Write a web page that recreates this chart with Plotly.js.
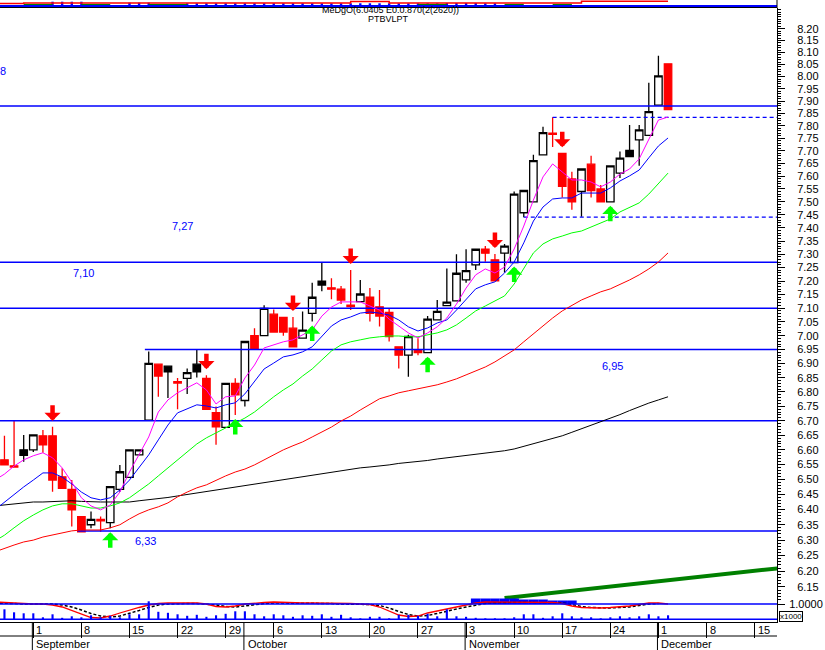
<!DOCTYPE html>
<html><head><meta charset="utf-8">
<script src="https://cdn.plot.ly/plotly-3.0.1.min.js"></script>
<style>html,body{margin:0;padding:0;background:#fff}#chart{width:825px;height:650px}</style>
</head><body><div id="chart"></div>
<script>
// ---------- data ----------
const dates = ['2014-08-26','2014-08-27','2014-08-28','2014-08-29',
'2014-09-01','2014-09-02','2014-09-03','2014-09-04','2014-09-05','2014-09-08','2014-09-09','2014-09-10','2014-09-11','2014-09-12',
'2014-09-15','2014-09-16','2014-09-17','2014-09-18','2014-09-19','2014-09-22','2014-09-23','2014-09-24','2014-09-25','2014-09-26',
'2014-09-29','2014-09-30','2014-10-01','2014-10-02','2014-10-03','2014-10-06','2014-10-07','2014-10-08','2014-10-09','2014-10-10',
'2014-10-13','2014-10-14','2014-10-15','2014-10-16','2014-10-17','2014-10-20','2014-10-21','2014-10-22','2014-10-23','2014-10-24',
'2014-10-27','2014-10-28','2014-10-29','2014-10-30','2014-10-31','2014-11-03','2014-11-04','2014-11-05','2014-11-06','2014-11-07',
'2014-11-10','2014-11-11','2014-11-12','2014-11-13','2014-11-14','2014-11-17','2014-11-18','2014-11-19','2014-11-20','2014-11-21',
'2014-11-24','2014-11-25','2014-11-26','2014-11-27','2014-11-28','2014-12-01','2014-12-02'];

const open  = [null,6.566,6.546,6.600,6.600,6.648,6.648,6.509,6.467,6.377,6.350,6.368,6.357,6.467,6.507,6.583,6.702,6.898,6.891,6.836,6.848,6.898,6.848,6.728,6.677,6.830,6.770,7.000,7.000,7.078,7.066,7.027,6.991,7.081,7.200,7.175,7.170,7.111,7.124,7.140,7.105,7.085,6.960,6.930,6.949,6.939,7.057,7.109,7.127,7.204,7.260,7.319,7.279,7.304,7.269,7.458,7.500,7.684,7.770,7.690,7.589,7.540,7.647,7.550,7.500,7.612,7.701,7.743,7.761,7.883,8.053];
const high  = [null,6.648,6.702,6.651,6.651,6.668,6.679,6.538,6.498,6.377,6.394,6.377,6.476,6.549,6.600,6.600,6.943,6.898,6.891,6.849,6.883,6.951,6.859,6.749,6.830,6.848,6.979,7.027,7.111,7.095,7.066,7.068,7.088,7.194,7.270,7.210,7.182,7.241,7.204,7.174,7.167,7.100,6.960,7.003,6.991,7.071,7.130,7.247,7.300,7.319,7.319,7.331,7.301,7.339,7.540,7.544,7.684,7.796,7.834,7.690,7.617,7.628,7.680,7.565,7.640,7.697,7.803,7.803,7.975,8.086,8.053];
const low   = [null,6.549,6.542,6.560,6.593,6.590,6.459,6.470,6.344,6.327,6.339,6.327,6.339,6.459,6.507,6.583,6.702,6.783,6.779,6.740,6.793,6.851,6.739,6.617,6.677,6.720,6.749,6.951,7.000,7.013,7.000,6.960,6.991,7.051,7.162,7.133,7.115,7.093,7.124,7.051,7.033,6.979,6.883,6.853,6.930,6.939,7.057,7.109,7.127,7.194,7.241,7.272,7.201,7.232,7.269,7.441,7.500,7.684,7.715,7.517,7.469,7.443,7.517,7.500,7.500,7.593,7.677,7.641,7.761,7.883,7.865];
const close = [null,6.549,6.542,6.581,6.651,6.617,6.498,6.470,6.399,6.327,6.368,6.363,6.476,6.526,6.600,6.600,6.901,6.856,6.871,6.831,6.868,6.871,6.739,6.679,6.830,6.790,6.979,6.951,7.099,7.013,7.013,6.960,7.020,7.140,7.185,7.170,7.130,7.106,7.152,7.081,7.071,6.997,6.930,6.997,6.939,7.060,7.088,7.122,7.229,7.239,7.319,7.304,7.201,7.331,7.530,7.544,7.661,7.772,7.765,7.560,7.500,7.628,7.544,7.500,7.640,7.671,7.677,7.783,7.857,8.003,7.865];
const blackCandleDates = ['2014-08-29','2014-09-19','2014-09-24','2014-10-13','2014-11-26'];

const maMagenta = [6.498,6.518,6.545,6.566,6.580,6.590,6.573,6.539,6.491,6.439,6.412,6.399,6.415,6.458,6.525,6.583,6.644,6.730,6.772,6.797,6.814,6.832,6.807,6.758,6.783,6.786,6.849,6.895,6.956,6.967,6.978,6.985,7.003,7.021,7.071,7.104,7.123,7.123,7.123,7.108,7.093,7.060,7.035,7.010,6.992,7.010,7.032,7.064,7.115,7.174,7.223,7.245,7.230,7.252,7.320,7.407,7.507,7.597,7.648,7.616,7.585,7.585,7.577,7.558,7.577,7.608,7.628,7.668,7.743,7.823,7.835];
const maBlue    = [6.399,6.425,6.452,6.475,6.498,6.522,6.522,6.508,6.485,6.458,6.439,6.432,6.439,6.465,6.498,6.539,6.583,6.634,6.685,6.727,6.741,6.755,6.751,6.744,6.755,6.762,6.793,6.835,6.881,6.902,6.924,6.931,6.942,6.960,6.996,7.035,7.057,7.068,7.082,7.086,7.082,7.075,7.057,7.032,7.017,7.028,7.046,7.057,7.093,7.130,7.171,7.186,7.197,7.230,7.271,7.343,7.426,7.480,7.511,7.515,7.515,7.534,7.534,7.534,7.554,7.581,7.601,7.624,7.672,7.719,7.751];
const maGreen   = [6.297,6.316,6.340,6.363,6.382,6.399,6.412,6.419,6.419,6.412,6.405,6.405,6.412,6.422,6.439,6.462,6.485,6.512,6.539,6.566,6.593,6.620,6.641,6.658,6.675,6.692,6.709,6.730,6.758,6.783,6.807,6.828,6.856,6.881,6.913,6.945,6.967,6.978,6.985,6.992,6.996,6.999,6.999,6.996,6.996,7.003,7.010,7.021,7.039,7.064,7.090,7.108,7.126,7.145,7.189,7.249,7.305,7.339,7.358,7.369,7.381,7.388,7.403,7.418,7.434,7.461,7.480,7.496,7.530,7.573,7.612];
const maRed     = [6.262,6.274,6.284,6.294,6.300,6.310,6.316,6.323,6.330,6.333,6.333,6.333,6.340,6.350,6.369,6.386,6.399,6.409,6.422,6.442,6.458,6.472,6.482,6.498,6.512,6.525,6.535,6.549,6.566,6.583,6.600,6.614,6.627,6.644,6.661,6.678,6.699,6.716,6.737,6.758,6.776,6.786,6.797,6.804,6.811,6.818,6.825,6.835,6.846,6.860,6.874,6.888,6.906,6.927,6.949,6.978,7.007,7.035,7.064,7.090,7.111,7.130,7.145,7.160,7.171,7.186,7.204,7.223,7.245,7.271,7.305];
const maBlack   = [6.412,6.415,6.419,6.422,6.425,6.425,6.427,6.429,6.429,6.427,6.425,6.425,6.425,6.425,6.425,6.429,6.432,6.435,6.440,6.445,6.450,6.455,6.460,6.463,6.468,6.473,6.478,6.483,6.488,6.493,6.498,6.503,6.508,6.513,6.518,6.523,6.529,6.534,6.539,6.542,6.545,6.549,6.554,6.557,6.561,6.564,6.569,6.573,6.576,6.580,6.585,6.588,6.591,6.597,6.603,6.612,6.620,6.629,6.637,6.648,6.660,6.672,6.683,6.695,6.709,6.721,6.735,6.749,6.761,6.772,6.783];

// price-axis tick labels
const priceTicks = [6.15,6.20,6.25,6.30,6.35,6.40,6.45,6.50,6.55,6.60,6.65,6.70,6.75,6.80,6.85,6.90,6.95,7.00,7.05,7.10,7.15,7.20,7.25,7.30,7.35,7.40,7.45,7.50,7.55,7.60,7.65,7.70,7.75,7.80,7.85,7.90,7.95,8.00,8.05,8.10,8.15,8.20];

// support / resistance levels
const levelValues = [7.88, 7.27, 7.10, 6.95, 6.70, 6.33];
const levelStarts = [null, null, null, '2014-09-17', null, '2014-09-08'];
const dashedValues = [7.834, 7.441];
const dashedStarts = ['2014-11-14', '2014-11-11'];
const levelLabels = ['8', '7,27', '7,10', '6,95', '6,33'];
const levelLabelDates = ['2014-08-27', '2014-09-22', '2014-09-08', '2014-11-24', '2014-09-16'];
const levelLabelOffset = [-0.15, 0.5, 0.22, 0.23, 0.67];
const levelLabelPrices = [8.023, 7.407, 7.230, 6.892, 6.297];

// signal arrows
const sellDates = ['2014-09-03','2014-09-25','2014-10-08','2014-10-16','2014-11-06','2014-11-17'];
const buyDates  = ['2014-09-11','2014-09-30','2014-10-10','2014-10-28','2014-11-10','2014-11-24'];

// trend line (price units)
const trendDates  = ['2014-11-07', '2014-12-18'];
const trendValues = [6.1145, 6.211];

// lower panel: volume (x1000) and oscillator
const volume = [0,10,7,6,6,2,5,1.5,3,2,4,2,3.5,2,5,5,18,7.5,6.5,5,3.5,4.5,2.5,4,5.5,8,8,5,3,5,4,2.5,4,3.5,5,2.5,4.5,2,1,2.5,2.5,1,4.5,4.5,3.5,5.5,3,10,3,2.5,1.5,1,1,1,2,5,5,1.5,3,6,3,2,2,1,2,3,2,3,5,3,4];
const oscRed   = [1.010,1.0075,1.0025,1.0,1.0,1.0,0.995,0.985,0.9675,0.95,0.9325,0.93,0.94,0.955,0.97,0.9825,0.995,1.0025,1.005,1.005,1.005,1.005,1.0,0.9875,0.985,0.99,1.0,1.005,1.0075,1.01,1.0075,1.005,1.005,1.005,1.005,1.0025,1.0025,1.0025,1.0,0.9975,0.985,0.965,0.945,0.9375,0.94,0.955,0.965,0.975,0.9825,0.995,1.005,1.01,1.01,1.01,1.01,1.01,1.01,1.01,1.0075,1.0025,0.99,0.9825,0.98,0.98,0.9825,0.985,0.99,0.9975,1.005,1.005,1.0];
const oscBlack = [1.005,1.005,1.0025,1.0,1.0,1.0,1.0,0.995,0.985,0.97,0.9525,0.94,0.935,0.94,0.9525,0.9675,0.9825,0.995,1.0,1.0025,1.0025,1.0025,1.0,0.995,0.9875,0.985,0.99,0.9975,1.0025,1.005,1.005,1.005,1.005,1.0025,1.0025,1.0025,1.0,1.0,1.0,0.9975,0.9925,0.98,0.9625,0.9475,0.94,0.9425,0.9525,0.965,0.975,0.985,0.995,1.0025,1.005,1.0075,1.0075,1.0075,1.0075,1.0075,1.0075,1.005,0.9975,0.9875,0.9825,0.98,0.98,0.9825,0.985,0.9925,1.0,1.0025,null];
const bandDates = ['2014-11-04','2014-11-05','2014-11-06','2014-11-07','2014-11-10','2014-11-11','2014-11-12','2014-11-13','2014-11-14','2014-11-17','2014-11-18'];
const bandTop   = [1.0275,1.0275,1.0275,1.0275,1.0275,1.0225,1.0225,1.0225,1.0175,1.0175,1.0175];

// top strip indicator
const topBlue  = [0,0,0,0,0,0,4.3,4.3,4.3,4.3,0,0,0,0,3.3,3.3,3.3,0,0,0,2.7,2.7,2.7,2.7,2.7,2.7,2.7,2.7,2.7,2.7,2.7,2.7,2.7,2.7,2.7,2.7,2.7,2.7,2.7,2.7,2.7,2.7,2.7,2.7,2.7,2.7,2.7,3,3,3,3,2.7,2.7,0,0,0,0,0,0,0,0,0,0,0,0,0,0,0,0,0,0];
const topRed   = [4.6,4.4,4.4,5,5,5,5,5,5,5,5,5,5,5,5,5,5,5,5,5,5,5,5,5,5,5,5,5,5,5,5,5,5,5,5,5,5,6.5,6.5,6.5,6.5,5,5,5,5,5,5,5,5,5,5,5,5,5,5,5,5,5,5,5,5,6.8,6.8,6.8,6.8,6.8,6.8,6.8,6.8,6.8,6.8];
const topGreen = [null,null,null,3.3,3.3,3.3,3.3,null,null,3.3,3.3,3.3,3.3,null,null,null,3.3,3.3,3.3,3.3,3.3,null,null,null,null,null,null,null,null,null,null,null,null,null,null,null,null,null,null,null,null,null,null,null,3.3,3.3,3.3,3.3,null,null,null,null,null,3.3,3.3,3.3,null,null,3.3,3.3,3.3,null,null,null,null,null,null,null,null,null,null];

const mondays = ['2014-09-01','2014-09-08','2014-09-15','2014-09-22','2014-09-29','2014-10-06','2014-10-13','2014-10-20','2014-10-27','2014-11-03','2014-11-10','2014-11-17','2014-11-24','2014-12-01','2014-12-08','2014-12-15'];
const monthStarts = ['2014-09-01','2014-10-01','2014-11-03','2014-12-01'];
const monthNames = ['September','October','November','December'];
const titleLines = ['MeDgO(6.0405 E0.0.870(2(2620))', 'PTBVLPT'];

// ---------- helpers ----------
const DAY = 86400000, BASE = Date.parse('2014-09-01T00:00:00Z');
function tIndex(s){
  const t = Date.parse(s+'T00:00:00Z'); let n = 0;
  if (t >= BASE) { for (let d = BASE; d < t; d += DAY){ const w = new Date(d).getUTCDay(); if (w>0 && w<6) n++; } }
  else { for (let d = t; d < BASE; d += DAY){ const w = new Date(d).getUTCDay(); if (w>0 && w<6) n--; } }
  return n;
}
const xs = dates.map(tIndex);
const L10 = Math.log10;
const FONT = 'Liberation Sans, Arial, sans-serif';
const PH = 622; // plot height in px (650 - bottom margin)
const py = p => (PH - p) / PH; // pixel row -> paper y

// ---------- traces ----------
const isBlack = dates.map(d => blackCandleDates.includes(d));
const pick = (arr, f) => arr.filter((v,i)=>f(i));
const traces = [];

// top strip
traces.push({type:'bar', x:xs, y:topBlue, base:2, width:0.25, marker:{color:'#0000ff', line:{width:0}}, xaxis:'x', yaxis:'y4', hoverinfo:'skip'});
traces.push({type:'scatter', mode:'lines', x:xs, y:topRed, line:{color:'#ff0000', width:1.5, shape:'hv'}, xaxis:'x', yaxis:'y4', hoverinfo:'skip'});
traces.push({type:'scatter', mode:'lines', x:xs, y:topGreen, line:{color:'#008000', width:1.5, shape:'hv'}, xaxis:'x', yaxis:'y4', hoverinfo:'skip', connectgaps:false});

// lower panel (drawn under the price marks)
traces.push({type:'bar', x:bandDates.map(tIndex), y:bandTop.map(v=>v-1), base:1, width:1, marker:{color:'#0000ff', line:{width:0}}, xaxis:'x', yaxis:'y2', hoverinfo:'skip'});
traces.push({type:'bar', x:xs, y:volume, width:0.22, marker:{color:'#0000ff', line:{width:0}}, xaxis:'x', yaxis:'y3', hoverinfo:'skip'});
traces.push({type:'scatter', mode:'lines', x:xs, y:oscBlack, line:{color:'#000000', width:1.5, dash:'3px,2px'}, xaxis:'x', yaxis:'y2', hoverinfo:'skip'});
traces.push({type:'scatter', mode:'lines', x:xs, y:oscRed, line:{color:'#ff0000', width:1.3}, xaxis:'x', yaxis:'y2', hoverinfo:'skip'});

// levels
levelValues.forEach((v,k)=>{
  const x0 = levelStarts[k] ? tIndex(levelStarts[k]) - 0.4 : -10;
  traces.push({type:'scatter', mode:'lines', x:[x0, 90], y:[v, v], line:{color:'#0000ff', width:1.5}, hoverinfo:'skip', xaxis:'x', yaxis:'y'});
});
dashedValues.forEach((v,k)=>{
  traces.push({type:'scatter', mode:'lines', x:[tIndex(dashedStarts[k]), 90], y:[v, v], line:{color:'#0000ff', width:1.3, dash:'4px,3px'}, hoverinfo:'skip', xaxis:'x', yaxis:'y'});
});

// moving averages
[[maBlack,'#000000'],[maRed,'#ff0000'],[maGreen,'#00ff00'],[maBlue,'#0000ff'],[maMagenta,'#ff00ff']].forEach(([arr,c])=>{
  traces.push({type:'scatter', mode:'lines', x:xs, y:arr, line:{color:c, width:1}, hoverinfo:'skip', xaxis:'x', yaxis:'y'});
});

// trend line
traces.push({type:'scatter', mode:'lines', x:trendDates.map(tIndex), y:trendValues, line:{color:'#008000', width:4}, hoverinfo:'skip', xaxis:'x', yaxis:'y'});

// candles
traces.push({type:'candlestick', x:pick(xs,i=>!isBlack[i]), open:pick(open,i=>!isBlack[i]), high:pick(high,i=>!isBlack[i]), low:pick(low,i=>!isBlack[i]), close:pick(close,i=>!isBlack[i]),
  increasing:{line:{color:'#000000', width:1.3}, fillcolor:'#ffffff'}, decreasing:{line:{color:'#ff0000', width:1.3}, fillcolor:'#ff0000'}, whiskerwidth:0, xaxis:'x', yaxis:'y', hoverinfo:'skip'});
traces.push({type:'candlestick', x:pick(xs,i=>isBlack[i]), open:pick(open,i=>isBlack[i]), high:pick(high,i=>isBlack[i]), low:pick(low,i=>isBlack[i]), close:pick(close,i=>isBlack[i]),
  increasing:{line:{color:'#000000', width:1.3}, fillcolor:'#000000'}, decreasing:{line:{color:'#000000', width:1.3}, fillcolor:'#000000'}, whiskerwidth:0, xaxis:'x', yaxis:'y', hoverinfo:'skip'});

// ---------- annotations ----------
const ann = [];
sellDates.forEach(d=>{ const i = dates.indexOf(d);
  ann.push({x:xs[i], y:L10(high[i]), xref:'x', yref:'y', text:'', showarrow:true, arrowhead:1, arrowsize:0.6, arrowwidth:4.5, arrowcolor:'#ff0000', ax:0, ay:-23, standoff:6}); });
buyDates.forEach(d=>{ const i = dates.indexOf(d);
  ann.push({x:xs[i], y:L10(low[i]), xref:'x', yref:'y', text:'', showarrow:true, arrowhead:1, arrowsize:0.6, arrowwidth:4.5, arrowcolor:'#00ff00', ax:0, ay:21, standoff:4}); });
levelLabels.forEach((t,k)=>{
  ann.push({x:tIndex(levelLabelDates[k]) + levelLabelOffset[k], y:L10(levelLabelPrices[k]), xref:'x', yref:'y', text:t, showarrow:false, font:{family:FONT, size:11, color:'#0000ff'}, xanchor:'center', yanchor:'middle'});
});
mondays.forEach(d=>{
  ann.push({x:tIndex(d), y:py(630), xref:'x', yref:'paper', text:String(new Date(d+'T00:00:00Z').getUTCDate()), showarrow:false, xanchor:'left', yanchor:'middle', xshift:1, font:{family:FONT, size:11, color:'#000'}});
});
monthStarts.forEach((d,k)=>{
  ann.push({x:tIndex(d), y:py(644), xref:'x', yref:'paper', text:monthNames[k], showarrow:false, xanchor:'left', yanchor:'middle', xshift:1, font:{family:FONT, size:11, color:'#000'}});
});
ann.push({x:390/777, y:py(9.5), xref:'paper', yref:'paper', text:titleLines[0], showarrow:false, xanchor:'center', yanchor:'middle', font:{family:FONT, size:9, color:'#000'}, borderpad:0});
ann.push({x:388/777, y:py(19.5), xref:'paper', yref:'paper', text:titleLines[1], showarrow:false, xanchor:'center', yanchor:'middle', font:{family:FONT, size:9, color:'#000'}, borderpad:0});
ann.push({x:1, y:py(616.5), xref:'paper', yref:'paper', text:'x1000', showarrow:false, xanchor:'left', yanchor:'middle', xshift:2, font:{family:FONT, size:8, color:'#000'}, bordercolor:'#000', borderwidth:1, borderpad:0});

// ---------- shapes ----------
const shapes = [];
monthStarts.forEach(d=>{ shapes.push({type:'line', xref:'x', yref:'paper', x0:tIndex(d)-0.1, x1:tIndex(d)-0.1, y0:0, y1:py(650), line:{color:'#000', width:1}}); });
shapes.push({type:'line', xref:'paper', yref:'paper', x0:0, x1:1, y0:py(636), y1:py(636), line:{color:'#000', width:1}});
shapes.push({type:'line', xref:'paper', yref:'y2', x0:0, x1:1, y0:1, y1:1, line:{color:'#0000ff', width:1.5}});
shapes.push({type:'line', xref:'paper', yref:'y3', x0:0, x1:1, y0:0, y1:0, line:{color:'#0000ff', width:1.5}});
shapes.push({type:'line', xref:'paper', yref:'y4', x0:0, x1:1, y0:2, y1:2, line:{color:'#0000ff', width:2}});
shapes.push({type:'line', xref:'paper', yref:'paper', x0:0, x1:1, y0:py(7.5), y1:py(7.5), line:{color:'#000', width:1}});
shapes.push({type:'line', xref:'paper', yref:'paper', x0:1, x1:1, y0:py(8), y1:1, line:{color:'#000', width:1}});

const tickFont = {family:FONT, size:11, color:'#000'};
const layout = {
  width:825, height:650, margin:{l:0, r:48, t:0, b:28},
  paper_bgcolor:'#ffffff', plot_bgcolor:'rgba(0,0,0,0)', showlegend:false, barmode:'overlay',
  boxgap:0.2, boxgroupgap:0.03, hovermode:false,
  xaxis:{range:[-3.463, 77.33], anchor:'y2', showgrid:false, zeroline:false, showline:true, linecolor:'#000', linewidth:1,
    ticks:'outside', ticklen:15, tickcolor:'#000', tickwidth:1, tickmode:'array', tickvals:mondays.map(tIndex), showticklabels:false, rangeslider:{visible:false}},
  yaxis:{domain:[py(600), py(8)], type:'log', range:[L10(6.1085), L10(8.288)], side:'right', anchor:'x', showgrid:false, zeroline:false,
    showline:true, linecolor:'#000', linewidth:1, ticks:'outside', ticklen:7, tickcolor:'#000', tickmode:'array', tickvals:priceTicks,
    ticktext:priceTicks.map(v=>v.toFixed(2)), tickfont:tickFont, ticklabelstandoff:10,
    minor:{dtick:'L0.01', tick0:0, ticks:'outside', ticklen:3, tickcolor:'#000'}},
  yaxis2:{domain:[0, py(590)], range:[0.91, 1.07], side:'right', anchor:'x', showgrid:false, zeroline:false, showline:true, linecolor:'#000',
    ticks:'outside', ticklen:7, tickcolor:'#000', tickmode:'array', tickvals:[1], ticktext:['1.0000'], tickfont:tickFont, ticklabelstandoff:2},
  yaxis3:{overlaying:'y2', range:[-2.7, 29.3], visible:false},
  yaxis4:{domain:[py(8), 1], range:[0, 8], anchor:'x', visible:false},
  annotations:ann, shapes:shapes
};
Plotly.newPlot('chart', traces, layout, {displayModeBar:false, staticPlot:true});
</script></body></html>
